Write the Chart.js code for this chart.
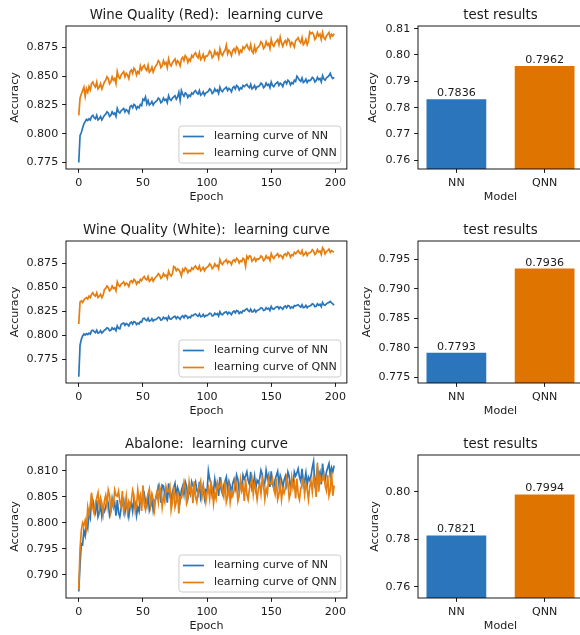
<!DOCTYPE html>
<html>
<head>
<meta charset="utf-8">
<script src="https://cdn.jsdelivr.net/npm/chart.js@4.4.0/dist/chart.umd.min.js"></script>
<style>
    html, body { margin: 0; padding: 0; background: #fff; overflow: hidden; }
    body { position: relative; width: 580px; height: 635px; }
    canvas { position: absolute; }
</style>
</head>
<body>
<canvas id="lineRed"></canvas>
<canvas id="barRed"></canvas>
<canvas id="lineWhite"></canvas>
<canvas id="barWhite"></canvas>
<canvas id="lineAbalone"></canvas>
<canvas id="barAbalone"></canvas>
<script>
// ---- data ----
const models = ['NN', 'QNN'];
const epochTicks = ['0', '50', '100', '150', '200'];

const redNN = [
    0.7750, 0.7985, 0.8010, 0.8050, 0.8085, 0.8105, 0.8125, 0.8115, 0.8130, 0.8120,
    0.8150, 0.8160, 0.8140, 0.8130, 0.8160, 0.8120, 0.8130, 0.8150, 0.8120, 0.8140,
    0.8160, 0.8170, 0.8190, 0.8180, 0.8150, 0.8160, 0.8190, 0.8170, 0.8180, 0.8150,
    0.8220, 0.8190, 0.8180, 0.8200, 0.8210, 0.8220, 0.8190, 0.8210, 0.8200, 0.8180,
    0.8235, 0.8245, 0.8225, 0.8255, 0.8245, 0.8215, 0.8235, 0.8225, 0.8255, 0.8245,
    0.8300, 0.8290, 0.8320, 0.8260, 0.8290, 0.8250, 0.8260, 0.8280, 0.8250, 0.8270,
    0.8280, 0.8290, 0.8310, 0.8300, 0.8270, 0.8280, 0.8310, 0.8290, 0.8300, 0.8270,
    0.8330, 0.8300, 0.8290, 0.8310, 0.8320, 0.8330, 0.8300, 0.8320, 0.8360, 0.8290,
    0.8375, 0.8345, 0.8325, 0.8355, 0.8345, 0.8315, 0.8335, 0.8325, 0.8355, 0.8345,
    0.8365, 0.8375, 0.8355, 0.8345, 0.8375, 0.8335, 0.8345, 0.8365, 0.8335, 0.8355,
    0.8360, 0.8370, 0.8390, 0.8380, 0.8350, 0.8360, 0.8390, 0.8370, 0.8380, 0.8350,
    0.8405, 0.8375, 0.8365, 0.8385, 0.8395, 0.8405, 0.8375, 0.8395, 0.8385, 0.8365,
    0.8400, 0.8410, 0.8390, 0.8420, 0.8410, 0.8380, 0.8400, 0.8390, 0.8420, 0.8410,
    0.8420, 0.8430, 0.8410, 0.8400, 0.8430, 0.8390, 0.8400, 0.8420, 0.8390, 0.8410,
    0.8410, 0.8420, 0.8440, 0.8430, 0.8400, 0.8410, 0.8440, 0.8420, 0.8430, 0.8400,
    0.8450, 0.8420, 0.8410, 0.8430, 0.8440, 0.8450, 0.8420, 0.8440, 0.8430, 0.8410,
    0.8445, 0.8455, 0.8435, 0.8465, 0.8455, 0.8425, 0.8445, 0.8435, 0.8465, 0.8455,
    0.8500, 0.8485, 0.8465, 0.8455, 0.8485, 0.8445, 0.8455, 0.8475, 0.8445, 0.8465,
    0.8460, 0.8470, 0.8490, 0.8480, 0.8450, 0.8460, 0.8490, 0.8470, 0.8480, 0.8450,
    0.8505, 0.8475, 0.8465, 0.8485, 0.8495, 0.8505, 0.8525, 0.8495, 0.8480, 0.8490
];
const redQNN = [
    0.8160, 0.8310, 0.8345, 0.8375, 0.8405, 0.8325, 0.8390, 0.8360, 0.8410, 0.8380,
    0.8435, 0.8450, 0.8420, 0.8405, 0.8450, 0.8390, 0.8405, 0.8435, 0.8390, 0.8420,
    0.8450, 0.8465, 0.8495, 0.8480, 0.8435, 0.8450, 0.8495, 0.8465, 0.8480, 0.8435,
    0.8540, 0.8495, 0.8480, 0.8510, 0.8525, 0.8540, 0.8495, 0.8525, 0.8510, 0.8480,
    0.8540, 0.8555, 0.8525, 0.8570, 0.8555, 0.8510, 0.8540, 0.8525, 0.8590, 0.8555,
    0.8580, 0.8595, 0.8565, 0.8550, 0.8595, 0.8535, 0.8550, 0.8580, 0.8535, 0.8565,
    0.8590, 0.8605, 0.8635, 0.8620, 0.8575, 0.8590, 0.8635, 0.8605, 0.8620, 0.8575,
    0.8650, 0.8605, 0.8590, 0.8620, 0.8635, 0.8650, 0.8605, 0.8635, 0.8620, 0.8590,
    0.8650, 0.8665, 0.8635, 0.8680, 0.8665, 0.8620, 0.8650, 0.8635, 0.8680, 0.8665,
    0.8690, 0.8705, 0.8675, 0.8660, 0.8705, 0.8645, 0.8660, 0.8690, 0.8645, 0.8675,
    0.8675, 0.8690, 0.8720, 0.8705, 0.8660, 0.8675, 0.8720, 0.8690, 0.8705, 0.8660,
    0.8740, 0.8695, 0.8680, 0.8710, 0.8725, 0.8770, 0.8695, 0.8725, 0.8710, 0.8680,
    0.8725, 0.8740, 0.8710, 0.8755, 0.8740, 0.8695, 0.8725, 0.8710, 0.8755, 0.8740,
    0.8760, 0.8775, 0.8745, 0.8730, 0.8775, 0.8715, 0.8700, 0.8760, 0.8715, 0.8745,
    0.8755, 0.8770, 0.8800, 0.8785, 0.8740, 0.8755, 0.8800, 0.8770, 0.8785, 0.8740,
    0.8820, 0.8775, 0.8760, 0.8790, 0.8805, 0.8820, 0.8775, 0.8840, 0.8790, 0.8760,
    0.8795, 0.8810, 0.8780, 0.8825, 0.8810, 0.8765, 0.8795, 0.8780, 0.8755, 0.8810,
    0.8820, 0.8835, 0.8805, 0.8790, 0.8835, 0.8775, 0.8790, 0.8820, 0.8775, 0.8805,
    0.8885, 0.8870, 0.8880, 0.8865, 0.8820, 0.8835, 0.8880, 0.8850, 0.8865, 0.8820,
    0.8880, 0.8835, 0.8820, 0.8850, 0.8865, 0.8880, 0.8835, 0.8865, 0.8850, 0.8870
];
const whiteNN = [
    0.7570, 0.7900, 0.7960, 0.7995, 0.8015, 0.8005, 0.8020, 0.8010, 0.8025, 0.8015,
    0.8050, 0.8055, 0.8040, 0.8030, 0.8055, 0.8025, 0.8030, 0.8050, 0.8025, 0.8040,
    0.8055, 0.8065, 0.8080, 0.8075, 0.8050, 0.8055, 0.8080, 0.8065, 0.8075, 0.8050,
    0.8100, 0.8075, 0.8070, 0.8115, 0.8125, 0.8130, 0.8105, 0.8125, 0.8115, 0.8100,
    0.8130, 0.8140, 0.8120, 0.8145, 0.8140, 0.8115, 0.8130, 0.8120, 0.8145, 0.8140,
    0.8175, 0.8180, 0.8165, 0.8155, 0.8180, 0.8150, 0.8155, 0.8175, 0.8150, 0.8165,
    0.8165, 0.8175, 0.8190, 0.8185, 0.8160, 0.8165, 0.8190, 0.8175, 0.8185, 0.8160,
    0.8200, 0.8175, 0.8170, 0.8185, 0.8195, 0.8200, 0.8175, 0.8195, 0.8185, 0.8170,
    0.8195, 0.8205, 0.8185, 0.8210, 0.8205, 0.8180, 0.8195, 0.8185, 0.8210, 0.8205,
    0.8220, 0.8225, 0.8210, 0.8200, 0.8225, 0.8195, 0.8200, 0.8220, 0.8195, 0.8210,
    0.8208, 0.8218, 0.8233, 0.8228, 0.8203, 0.8208, 0.8233, 0.8218, 0.8228, 0.8203,
    0.8247, 0.8222, 0.8217, 0.8232, 0.8242, 0.8247, 0.8222, 0.8242, 0.8232, 0.8217,
    0.8245, 0.8255, 0.8235, 0.8260, 0.8255, 0.8230, 0.8245, 0.8235, 0.8260, 0.8255,
    0.8270, 0.8280, 0.8260, 0.8250, 0.8275, 0.8245, 0.8250, 0.8270, 0.8245, 0.8260,
    0.8265, 0.8275, 0.8290, 0.8285, 0.8260, 0.8265, 0.8290, 0.8275, 0.8285, 0.8260,
    0.8303, 0.8278, 0.8273, 0.8288, 0.8298, 0.8303, 0.8278, 0.8298, 0.8288, 0.8273,
    0.8298, 0.8308, 0.8288, 0.8313, 0.8308, 0.8283, 0.8298, 0.8288, 0.8313, 0.8308,
    0.8315, 0.8320, 0.8305, 0.8295, 0.8320, 0.8290, 0.8295, 0.8315, 0.8290, 0.8305,
    0.8305, 0.8315, 0.8330, 0.8325, 0.8300, 0.8305, 0.8330, 0.8315, 0.8325, 0.8300,
    0.8345, 0.8320, 0.8315, 0.8330, 0.8340, 0.8345, 0.8355, 0.8340, 0.8330, 0.8315
];
const whiteQNN = [
    0.8120, 0.8350, 0.8360, 0.8345, 0.8370, 0.8385, 0.8395, 0.8380, 0.8410, 0.8395,
    0.8430, 0.8445, 0.8420, 0.8410, 0.8445, 0.8395, 0.8410, 0.8430, 0.8395, 0.8420,
    0.8480, 0.8490, 0.8515, 0.8500, 0.8465, 0.8480, 0.8515, 0.8490, 0.8500, 0.8465,
    0.8560, 0.8525, 0.8510, 0.8535, 0.8545, 0.8560, 0.8525, 0.8545, 0.8535, 0.8510,
    0.8560, 0.8570, 0.8550, 0.8585, 0.8570, 0.8535, 0.8560, 0.8550, 0.8585, 0.8570,
    0.8600, 0.8615, 0.8590, 0.8580, 0.8615, 0.8565, 0.8580, 0.8600, 0.8565, 0.8590,
    0.8610, 0.8620, 0.8645, 0.8630, 0.8595, 0.8610, 0.8645, 0.8620, 0.8630, 0.8595,
    0.8670, 0.8635, 0.8620, 0.8645, 0.8720, 0.8710, 0.8675, 0.8695, 0.8685, 0.8660,
    0.8620, 0.8690, 0.8670, 0.8705, 0.8690, 0.8655, 0.8680, 0.8670, 0.8705, 0.8690,
    0.8710, 0.8725, 0.8700, 0.8690, 0.8725, 0.8675, 0.8690, 0.8710, 0.8675, 0.8700,
    0.8712, 0.8722, 0.8747, 0.8732, 0.8697, 0.8712, 0.8747, 0.8722, 0.8732, 0.8697,
    0.8790, 0.8755, 0.8740, 0.8765, 0.8775, 0.8790, 0.8755, 0.8775, 0.8765, 0.8740,
    0.8780, 0.8790, 0.8770, 0.8805, 0.8790, 0.8755, 0.8780, 0.8770, 0.8805, 0.8790,
    0.8720, 0.8825, 0.8800, 0.8830, 0.8825, 0.8775, 0.8790, 0.8810, 0.8775, 0.8800,
    0.8795, 0.8805, 0.8830, 0.8815, 0.8780, 0.8795, 0.8830, 0.8805, 0.8815, 0.8780,
    0.8853, 0.8818, 0.8803, 0.8828, 0.8838, 0.8853, 0.8818, 0.8838, 0.8828, 0.8803,
    0.8842, 0.8852, 0.8832, 0.8867, 0.8852, 0.8817, 0.8842, 0.8832, 0.8867, 0.8852,
    0.8870, 0.8885, 0.8860, 0.8850, 0.8885, 0.8835, 0.8850, 0.8870, 0.8835, 0.8860,
    0.8860, 0.8870, 0.8895, 0.8880, 0.8845, 0.8860, 0.8895, 0.8870, 0.8880, 0.8845,
    0.8915, 0.8895, 0.8850, 0.8875, 0.8885, 0.8900, 0.8865, 0.8885, 0.8875, 0.8870
];
const abaloneNN = [
    0.7868, 0.7920, 0.7960, 0.7958, 0.7985, 0.7975, 0.8000, 0.7990, 0.8020, 0.8010,
    0.8050, 0.8044, 0.8028, 0.8020, 0.8044, 0.8012, 0.8020, 0.8036, 0.8012, 0.8028,
    0.8022, 0.8030, 0.8046, 0.8038, 0.8014, 0.8022, 0.8046, 0.8030, 0.8038, 0.8014,
    0.8044, 0.8020, 0.8012, 0.8028, 0.8036, 0.8044, 0.8020, 0.8036, 0.8028, 0.8012,
    0.8030, 0.8038, 0.8022, 0.8046, 0.8038, 0.8014, 0.8030, 0.8022, 0.8046, 0.8038,
    0.8048, 0.8056, 0.8040, 0.8032, 0.8056, 0.8024, 0.8032, 0.8048, 0.8024, 0.8040,
    0.8047, 0.8055, 0.8071, 0.8063, 0.8039, 0.8073, 0.8071, 0.8055, 0.8063, 0.8039,
    0.8076, 0.8052, 0.8044, 0.8060, 0.8068, 0.8076, 0.8052, 0.8068, 0.8060, 0.8044,
    0.8063, 0.8071, 0.8055, 0.8079, 0.8071, 0.8047, 0.8063, 0.8055, 0.8079, 0.8071,
    0.8071, 0.8079, 0.8063, 0.8055, 0.8079, 0.8047, 0.8055, 0.8071, 0.8047, 0.8063,
    0.8060, 0.8100, 0.8084, 0.8076, 0.8052, 0.8060, 0.8084, 0.8068, 0.8076, 0.8052,
    0.8088, 0.8064, 0.8056, 0.8072, 0.8080, 0.8088, 0.8064, 0.8080, 0.8072, 0.8056,
    0.8076, 0.8084, 0.8068, 0.8092, 0.8084, 0.8060, 0.8076, 0.8068, 0.8092, 0.8084,
    0.8090, 0.8098, 0.8082, 0.8074, 0.8098, 0.8066, 0.8074, 0.8090, 0.8066, 0.8082,
    0.8077, 0.8085, 0.8101, 0.8093, 0.8069, 0.8077, 0.8101, 0.8085, 0.8093, 0.8069,
    0.8099, 0.8075, 0.8067, 0.8083, 0.8091, 0.8099, 0.8075, 0.8091, 0.8083, 0.8067,
    0.8082, 0.8090, 0.8074, 0.8098, 0.8090, 0.8066, 0.8082, 0.8074, 0.8098, 0.8090,
    0.8096, 0.8104, 0.8088, 0.8080, 0.8104, 0.8072, 0.8080, 0.8096, 0.8072, 0.8088,
    0.8082, 0.8090, 0.8106, 0.8118, 0.8074, 0.8082, 0.8106, 0.8090, 0.8098, 0.8074,
    0.8114, 0.8090, 0.8082, 0.8098, 0.8106, 0.8114, 0.8090, 0.8106, 0.8098, 0.8110
];
const abaloneQNN = [
    0.7872, 0.7950, 0.7985, 0.8000, 0.7995, 0.8005, 0.7990, 0.8030, 0.8015, 0.8035,
    0.8058, 0.8028, 0.8018, 0.8038, 0.8048, 0.8058, 0.8028, 0.8048, 0.8038, 0.8018,
    0.8043, 0.8053, 0.8033, 0.8063, 0.8053, 0.8023, 0.8043, 0.8033, 0.8063, 0.8053,
    0.8051, 0.8061, 0.8041, 0.8031, 0.8061, 0.8021, 0.8031, 0.8051, 0.8021, 0.8041,
    0.8033, 0.8043, 0.8063, 0.8053, 0.8023, 0.8033, 0.8063, 0.8043, 0.8053, 0.8023,
    0.8072, 0.8035, 0.8025, 0.8045, 0.8055, 0.8065, 0.8035, 0.8055, 0.8045, 0.8025,
    0.8050, 0.8060, 0.8040, 0.8070, 0.8060, 0.8030, 0.8050, 0.8040, 0.8070, 0.8060,
    0.8060, 0.8070, 0.8025, 0.8040, 0.8070, 0.8030, 0.8040, 0.8060, 0.8018, 0.8050,
    0.8048, 0.8058, 0.8078, 0.8068, 0.8038, 0.8048, 0.8078, 0.8058, 0.8068, 0.8038,
    0.8080, 0.8050, 0.8040, 0.8060, 0.8070, 0.8080, 0.8050, 0.8070, 0.8060, 0.8040,
    0.8057, 0.8067, 0.8047, 0.8077, 0.8067, 0.8037, 0.8057, 0.8047, 0.8077, 0.8067,
    0.8070, 0.8080, 0.8060, 0.8050, 0.8080, 0.8040, 0.8050, 0.8070, 0.8040, 0.8060,
    0.8052, 0.8062, 0.8082, 0.8072, 0.8042, 0.8052, 0.8082, 0.8062, 0.8072, 0.8042,
    0.8085, 0.8055, 0.8045, 0.8065, 0.8075, 0.8085, 0.8055, 0.8075, 0.8065, 0.8045,
    0.8066, 0.8076, 0.8056, 0.8086, 0.8076, 0.8046, 0.8066, 0.8056, 0.8086, 0.8076,
    0.8075, 0.8085, 0.8065, 0.8055, 0.8085, 0.8045, 0.8055, 0.8075, 0.8045, 0.8065,
    0.8057, 0.8067, 0.8087, 0.8077, 0.8047, 0.8057, 0.8087, 0.8067, 0.8077, 0.8047,
    0.8085, 0.8055, 0.8045, 0.8065, 0.8075, 0.8085, 0.8055, 0.8075, 0.8065, 0.8045,
    0.8070, 0.8080, 0.8060, 0.8090, 0.8080, 0.8050, 0.8115, 0.8060, 0.8090, 0.8080,
    0.8082, 0.8092, 0.8072, 0.8062, 0.8092, 0.8052, 0.8062, 0.8098, 0.8052, 0.8072
];

const redTest = [0.7836, 0.7962];
const whiteTest = [0.7793, 0.7936];
const abaloneTest = [0.7821, 0.7994];

const redLineTicks = ['0.775', '0.800', '0.825', '0.850', '0.875'];
const whiteLineTicks = ['0.775', '0.800', '0.825', '0.850', '0.875'];
const abaloneLineTicks = ['0.790', '0.795', '0.800', '0.805', '0.810'];
const redBarTicks = ['0.76', '0.77', '0.78', '0.79', '0.80', '0.81'];
const whiteBarTicks = ['0.775', '0.780', '0.785', '0.790', '0.795'];
const abaloneBarTicks = ['0.76', '0.78', '0.80'];

// ---- styling (figure was saved at 80 dpi, so 10pt -> 11.1px) ----
const blue = '#2a76bb';
const orange = '#e67e0f';
const barColors = ['#2a75bb', '#e07400'];
const ink = '#1a1a1a';
const smallFont = 11.1;
const titleFont = 13.3;

Chart.defaults.font.family = "'DejaVu Sans', sans-serif";
Chart.defaults.font.size = smallFont;
Chart.defaults.color = ink;

// axes frame like matplotlib spines
const framePlugin = {
    id: 'frame',
    afterDraw(chart) {
        const { ctx, chartArea: ca } = chart;
        ctx.save();
        ctx.strokeStyle = '#000';
        ctx.lineWidth = 0.9;
        ctx.strokeRect(ca.left, ca.top, ca.right - ca.left, ca.bottom - ca.top);
        ctx.restore();
    }
};

// title centered over the axes
const axTitlePlugin = {
    id: 'axTitle',
    afterDraw(chart, args, opts) {
        const { ctx, chartArea: ca } = chart;
        ctx.save();
        ctx.font = titleFont + "px 'DejaVu Sans', sans-serif";
        ctx.fillStyle = ink;
        ctx.textAlign = 'center';
        ctx.textBaseline = 'alphabetic';
        ctx.fillText(opts.text, (ca.left + ca.right) / 2, ca.top - 6.7);
        ctx.restore();
    }
};

// legend box in the lower right corner
const boxLegendPlugin = {
    id: 'boxLegend',
    afterDraw(chart, args, opts) {
        if (!opts.items) return;
        const { ctx, chartArea: ca } = chart;
        ctx.save();
        ctx.font = smallFont + "px 'DejaVu Sans', sans-serif";
        const tw = Math.max(...opts.items.map(it => ctx.measureText(it.label).width));
        const w = 35 + tw + 4, h = 37;
        const x = ca.right - 6 - w, y = ca.bottom - 6 - h;
        ctx.beginPath();
        ctx.roundRect(x, y, w, h, 3);
        ctx.fillStyle = 'rgba(255,255,255,0.8)';
        ctx.fill();
        ctx.strokeStyle = '#cccccc';
        ctx.lineWidth = 1;
        ctx.stroke();
        opts.items.forEach((it, k) => {
            const cy = y + 10.5 + k * 17;
            ctx.beginPath();
            ctx.moveTo(x + 4, cy);
            ctx.lineTo(x + 25, cy);
            ctx.strokeStyle = it.color;
            ctx.lineWidth = 1.7;
            ctx.stroke();
            ctx.fillStyle = ink;
            ctx.textBaseline = 'middle';
            ctx.fillText(it.label, x + 35, cy);
        });
        ctx.restore();
    }
};

// value labels on top of bars
const barValuesPlugin = {
    id: 'barValues',
    afterDatasetsDraw(chart) {
        if (chart.config.type !== 'bar') return;
        const { ctx } = chart;
        const ds = chart.data.datasets[0];
        ctx.save();
        ctx.font = smallFont + "px 'DejaVu Sans', sans-serif";
        ctx.fillStyle = ink;
        ctx.textAlign = 'center';
        ctx.textBaseline = 'alphabetic';
        chart.getDatasetMeta(0).data.forEach((bar, i) => {
            ctx.fillText(ds.data[i].y.toFixed(4), bar.x, bar.y - 2);
        });
        ctx.restore();
    }
};

Chart.register(framePlugin, axTitlePlugin, boxLegendPlugin, barValuesPlugin);

function tickStyle() {
    return {
        offset: false,
        grid: { display: true, offset: false, drawOnChartArea: false, drawTicks: true, tickLength: 3.9, tickColor: '#000', tickWidth: 0.9 },
        border: { display: false }
    };
}

function placeCanvas(id, left, top, right, bottom) {
    const cv = document.getElementById(id);
    cv.width = right - left;
    cv.height = bottom - top;
    cv.style.left = left + 'px';
    cv.style.top = top + 'px';
    return cv;
}

function lineChart(id, ax, yTitleX, title, nn, qnn, yTicks, yMin, yMax) {
    const left = Math.round(yTitleX - 6.7), top = ax.top - 26, right = 350, bottom = ax.bottom + 35;
    const cv = placeCanvas(id, left, top, right, bottom);
    const epochs = nn.map((v, i) => i);
    return new Chart(cv, {
        type: 'line',
        data: {
            labels: epochs,
            datasets: [
                { label: 'learning curve of NN', data: nn.map((v, i) => ({ x: epochs[i], y: v })), borderColor: blue, borderWidth: 1.7, pointRadius: 0, tension: 0, order: 1 },
                { label: 'learning curve of QNN', data: qnn.map((v, i) => ({ x: epochs[i], y: v })), borderColor: orange, borderWidth: 1.7, pointRadius: 0, tension: 0, order: 0 }
            ]
        },
        options: {
            responsive: false,
            animation: false,
            layout: { padding: { top: ax.top - top, right: right - ax.right, left: 0, bottom: 0 } },
            plugins: {
                legend: { display: false },
                tooltip: { enabled: false },
                axTitle: { text: title },
                boxLegend: { items: [{ label: 'learning curve of NN', color: blue }, { label: 'learning curve of QNN', color: orange }] }
            },
            scales: {
                x: {
                    type: 'linear', min: -9.95, max: 208.95,
                    afterBuildTicks: s => { s.ticks = epochTicks.map(t => ({ value: parseFloat(t) })); },
                    afterFit: s => { s.height = bottom - ax.bottom; },
                    ticks: { autoSkip: false, maxRotation: 0, padding: 3.9, callback: (v, i) => epochTicks[i] },
                    title: { display: true, text: 'Epoch', padding: 0 },
                    ...tickStyle()
                },
                y: {
                    min: yMin, max: yMax,
                    afterBuildTicks: s => { s.ticks = yTicks.map(t => ({ value: parseFloat(t) })); },
                    afterFit: s => { s.width = ax.left - left; },
                    ticks: { autoSkip: false, padding: 3.9, callback: (v, i) => yTicks[i] },
                    title: { display: true, text: 'Accuracy', padding: 0 },
                    ...tickStyle()
                }
            }
        }
    });
}

function barChart(id, ax, yTitleX, vals, yTicks, yMin, yMax) {
    const left = Math.round(yTitleX - 6.7), top = ax.top - 26, right = 586, bottom = ax.bottom + 35;
    const cv = placeCanvas(id, left, top, right, bottom);
    return new Chart(cv, {
        type: 'bar',
        data: {
            datasets: [{
                data: models.map((m, i) => ({ x: i, y: vals[i] })),
                backgroundColor: barColors,
                borderColor: 'rgba(255,255,255,0.35)',
                borderWidth: 1,
                barPercentage: 0.7,
                categoryPercentage: 1
            }]
        },
        options: {
            responsive: false,
            animation: false,
            layout: { padding: { top: ax.top - top, right: right - ax.right, left: 0, bottom: 0 } },
            plugins: {
                legend: { display: false },
                tooltip: { enabled: false },
                axTitle: { text: 'test results' }
            },
            scales: {
                x: {
                    type: 'linear', min: -0.435, max: 1.435,
                    afterBuildTicks: s => { s.ticks = models.map((m, i) => ({ value: i })); },
                    afterFit: s => { s.height = bottom - ax.bottom; },
                    ticks: { autoSkip: false, maxRotation: 0, padding: 3.9, callback: (v, i) => models[i] },
                    title: { display: true, text: 'Model', padding: 0 },
                    ...tickStyle()
                },
                y: {
                    min: yMin, max: yMax,
                    afterBuildTicks: s => { s.ticks = yTicks.map(t => ({ value: parseFloat(t) })); },
                    afterFit: s => { s.width = ax.left - left; },
                    ticks: { autoSkip: false, padding: 3.9, callback: (v, i) => yTicks[i] },
                    title: { display: true, text: 'Accuracy', padding: 0 },
                    ...tickStyle()
                }
            }
        }
    });
}

lineChart('lineRed', { left: 66, right: 347, top: 26, bottom: 169 }, 15,
    'Wine Quality (Red):  learning curve', redNN, redQNN, redLineTicks, 0.7693, 0.8937);
barChart('barRed', { left: 418, right: 583, top: 26, bottom: 169 }, 373,
    redTest, redBarTicks, 0.7567, 0.811);

lineChart('lineWhite', { left: 66, right: 347, top: 241, bottom: 383 }, 15,
    'Wine Quality (White):  learning curve', whiteNN, whiteQNN, whiteLineTicks, 0.7505, 0.8985);
barChart('barWhite', { left: 418, right: 583, top: 241, bottom: 383 }, 367,
    whiteTest, whiteBarTicks, 0.7740, 0.7981);

lineChart('lineAbalone', { left: 66, right: 347, top: 455, bottom: 598 }, 15,
    'Abalone:  learning curve', abaloneNN, abaloneQNN, abaloneLineTicks, 0.78555, 0.81305);
barChart('barAbalone', { left: 418, right: 583, top: 455, bottom: 598 }, 375,
    abaloneTest, abaloneBarTicks, 0.7553, 0.8156);
</script>
</body>
</html>
